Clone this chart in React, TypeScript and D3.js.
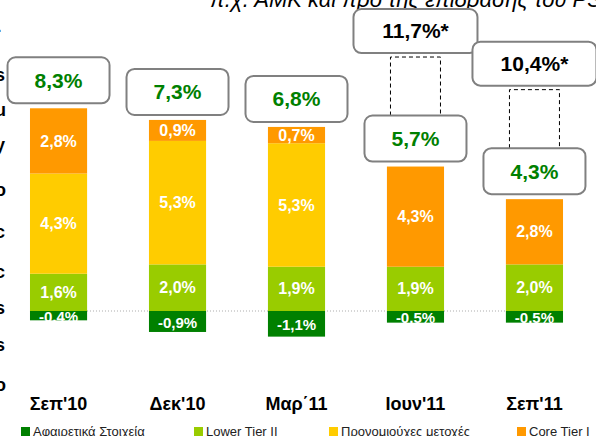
import { useEffect, useRef } from "react";
import * as d3 from "d3";

const categories = ["Σεπ'10", "Δεκ'10", "Μαρ΄11", "Ιουν'11", "Σεπ'11"];
const deductions = [-0.4, -0.9, -1.1, -0.5, -0.5];
const lowerTier2 = [1.6, 2.0, 1.9, 1.9, 2.0];
const preferred = [4.3, 5.3, 5.3, 0, 0];
const coreTier1 = [2.8, 0.9, 0.7, 4.3, 2.8];
const totals = [8.3, 7.3, 6.8, 5.7, 4.3];
const proForma: (number | null)[] = [null, null, null, 11.7, 10.4];
const proFormaTop: (number | null)[] = [null, null, null, 10.9, 9.5];

const seriesNames = ["Αφαιρετικά Στοιχεία", "Lower Tier II", "Προνομιούχες μετοχές", "Core Tier I"];
const seriesColors = ["#008000", "#99cc00", "#ffcc00", "#ff9900"];
const legendX = [21, 194, 329, 517];

const subtitle = "π.χ. ΑΜΚ και προ της επίδρασης του PSI";
const edgeChars = ["-", "s", "u", "y", "o", "c", "c", "s", "s", "o"];
const edgeY = [30, 75, 110, 145, 190, 232, 272, 308, 345, 385];

const fmt = (v: number) => d3.format(".1f")(v).replace(".", ",").replace("−", "-") + "%";
const FONT = "'Liberation Sans', Arial, sans-serif";

export default function App() {
  const ref = useRef<SVGSVGElement>(null);

  useEffect(() => {
    if (!ref.current) return;
    const svg = d3.select(ref.current);
    svg.selectAll("*").remove();

    const x = d3
      .scaleBand<string>()
      .domain(categories)
      .range([0, 593])
      .paddingInner(0.52)
      .paddingOuter(0.252);
    const y = d3.scaleLinear().domain([0, 10]).range([311, 78]);
    const bw = x.bandwidth();

    // subtitle, cropped at the top
    svg
      .append("text")
      .attr("x", 210)
      .attr("y", 7)
      .attr("font-family", FONT)
      .attr("font-size", 22)
      .attr("font-style", "italic")
      .attr("fill", "#000")
      .text(subtitle);

    // letters cropped at the left edge
    svg
      .selectAll("text.edge")
      .data(edgeChars)
      .join("text")
      .attr("class", "edge")
      .attr("x", -5)
      .attr("y", (_, i) => edgeY[i] + 6)
      .attr("font-family", FONT)
      .attr("font-size", 18)
      .attr("font-weight", "bold")
      .text((d) => d);

    // zero line
    svg
      .append("line")
      .attr("x1", x(categories[0])!)
      .attr("x2", x(categories[4])! + bw)
      .attr("y1", y(0))
      .attr("y2", y(0))
      .attr("stroke", "#aaa")
      .attr("stroke-width", 1)
      .attr("stroke-dasharray", "1,2");

    const label = (sel: any, size: number) =>
      sel
        .attr("font-family", FONT)
        .attr("font-size", size)
        .attr("font-weight", "bold")
        .attr("text-anchor", "middle")
        .attr("dy", "0.35em");

    categories.forEach((c, i) => {
      const x0 = x(c)!;
      const cx = x0 + bw / 2;
      const g = svg.append("g");

      // deductions below zero
      g.append("rect")
        .attr("x", x0)
        .attr("y", y(0))
        .attr("width", bw)
        .attr("height", y(deductions[i]) - y(0))
        .attr("fill", seriesColors[0]);
      label(
        g
          .append("text")
          .attr("x", cx)
          .attr("y", (y(0) + y(deductions[i])) / 2 + 1)
          .attr("fill", "#fff")
          .text(fmt(deductions[i])),
        15
      );

      // positive stack
      const vals = [lowerTier2[i], preferred[i], coreTier1[i]];
      let base = 0;
      vals.forEach((v, k) => {
        if (v <= 0) return;
        g.append("rect")
          .attr("x", x0)
          .attr("y", y(base + v))
          .attr("width", bw)
          .attr("height", y(base) - y(base + v))
          .attr("fill", seriesColors[k + 1]);
        label(
          g
            .append("text")
            .attr("x", cx)
            .attr("y", (y(base) + y(base + v)) / 2)
            .attr("fill", "#fff")
            .text(fmt(v)),
          16
        );
        base += v;
      });

      const top = y(base);
      const boxH = 46;
      const boxW = 102;
      const boxY = top - 5 - boxH;

      // pro forma dashed column + box
      const pf = proForma[i];
      const pfTop = proFormaTop[i];
      if (pf != null && pfTop != null) {
        const dy = y(pfTop);
        g.append("path")
          .attr("d", `M${cx - 25},${boxY}V${dy}H${cx + 25}V${boxY}`)
          .attr("fill", "none")
          .attr("stroke", "#000")
          .attr("stroke-width", 1)
          .attr("stroke-dasharray", "4,3");
        const pw = 124;
        const ph = 44;
        g.append("rect")
          .attr("x", cx - pw / 2)
          .attr("y", dy - 4 - ph)
          .attr("width", pw)
          .attr("height", ph)
          .attr("rx", 8)
          .attr("fill", "#fff")
          .attr("stroke", "#808080")
          .attr("stroke-width", 2);
        label(
          g
            .append("text")
            .attr("x", cx)
            .attr("y", dy - 4 - ph / 2)
            .attr("fill", "#000")
            .text(fmt(pf) + "*"),
          21
        );
      }

      // total box
      g.append("rect")
        .attr("x", cx - boxW / 2)
        .attr("y", boxY)
        .attr("width", boxW)
        .attr("height", boxH)
        .attr("rx", 8)
        .attr("fill", "#fff")
        .attr("stroke", "#808080")
        .attr("stroke-width", 2);
      label(
        g
          .append("text")
          .attr("x", cx)
          .attr("y", boxY + boxH / 2)
          .attr("fill", "#008000")
          .text(fmt(totals[i])),
        21
      );

      // category label
      g.append("text")
        .attr("x", cx)
        .attr("y", 410)
        .attr("font-family", FONT)
        .attr("font-size", 18)
        .attr("font-weight", "bold")
        .attr("text-anchor", "middle")
        .attr("fill", "#000")
        .text(c);
    });

    // legend
    const lg = svg
      .selectAll("g.legend")
      .data(seriesNames)
      .join("g")
      .attr("class", "legend")
      .attr("transform", (_, i) => `translate(${legendX[i]},427)`);
    lg.append("rect")
      .attr("width", 9)
      .attr("height", 9)
      .attr("fill", (_, i) => seriesColors[i]);
    lg.append("text")
      .attr("x", 12)
      .attr("y", 9)
      .attr("font-family", FONT)
      .attr("font-size", 13)
      .attr("fill", "#222")
      .text((d) => d);
  }, []);

  return (
    <svg
      ref={ref}
      width={596}
      height={436}
      style={{ position: "absolute", left: 0, top: 0, background: "#fff", overflow: "hidden" }}
    />
  );
}
